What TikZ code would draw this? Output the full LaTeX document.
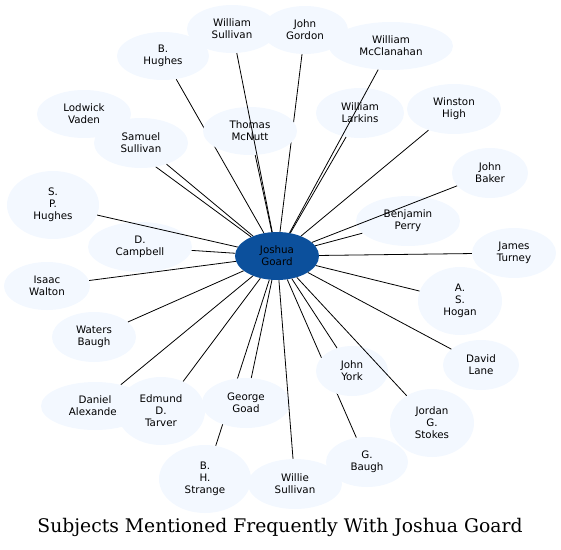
\documentclass[tikz,border=0pt]{standalone}
\usepackage{fontspec}
\newfontfamily\nodefont{DejaVu Sans}
\newfontfamily\titlefont{DejaVu Serif}
\usetikzlibrary{shapes.geometric,backgrounds}
\definecolor{nodefill}{HTML}{F3F8FF}
\definecolor{centerfill}{HTML}{0C509C}
\tikzset{
  person/.style={ellipse, fill=nodefill, inner sep=0pt, align=center,
    font=\nodefont\fontsize{10.3}{12}\selectfont},
  hub/.style={person, fill=centerfill},
  link/.style={draw=black, line width=0.8pt},
  sz/.style 2 args={minimum width=#1pt, minimum height=#2pt}
}
\begin{document}
\begin{tikzpicture}[x=1pt,y=-1pt]
\useasboundingbox (0,0) rectangle (561,549);
\node[person,sz={90}{48}] (ws) at (232,29) {William\\Sullivan};
\node[person,sz={86}{48}] (jg) at (305,30) {John\\Gordon};
\node[person,sz={124}{48}] (wm) at (391,46) {William\\McClanahan};
\node[person,sz={92}{48}] (bh) at (163,56) {B.\\Hughes};
\node[person,sz={94}{48}] (tm) at (250,131) {Thomas\\McNutt};
\node[person,sz={88}{50}] (wl) at (360,113) {William\\Larkins};
\node[person,sz={94}{50}] (wh) at (454,109) {Winston\\High};
\node[person,sz={94}{48}] (lv) at (84,114) {Lodwick\\Vaden};
\node[person,sz={94}{50}] (ss) at (141,143) {Samuel\\Sullivan};
\node[person,sz={76}{50}] (jb) at (490,173) {John\\Baker};
\node[person,sz={92}{68}] (sp) at (53,205) {S.\\P.\\Hughes};
\node[person,sz={104}{50}] (bp) at (408,221) {Benjamin\\Perry};
\node[person,sz={104}{50}] (dc) at (140,247) {D.\\Campbell};
\node[person,sz={84}{50}] (jt) at (514,253) {James\\Turney};
\node[person,sz={86}{48}] (iw) at (47,286) {Isaac\\Walton};
\node[person,sz={84}{68}] (ah) at (460,301) {A.\\S.\\Hogan};
\node[person,sz={84}{50}] (wb) at (94,337) {Waters\\Baugh};
\node[person,sz={72}{50}] (jy) at (352,371) {John\\York};
\node[person,sz={76}{50}] (dl) at (481,365) {David\\Lane};
\node[person,sz={108}{48}] (da) at (95,406) {Daniel\\Alexander};
\node[person,sz={88}{68}] (et) at (161,411) {Edmund\\D.\\Tarver};
\node[person,sz={88}{50}] (gg) at (246,403) {George\\Goad};
\node[person,sz={84}{68}] (js) at (432,423) {Jordan\\G.\\Stokes};
\node[person,sz={82}{50}] (gb) at (367,462) {G.\\Baugh};
\node[person,sz={92}{68}] (bs) at (205,479) {B.\\H.\\Strange};
\node[person,sz={94}{50}] (wsu) at (295,484) {Willie\\Sullivan};
\node[hub,sz={84}{48}] (jgd) at (277,256) {Joshua\\Goard};
\begin{pgfonlayer}{background}
\foreach \t in {lv,bh,jg,bs,gb}{\draw[link] (jgd) -- (\t);}
\end{pgfonlayer}
\foreach \t in {ws,wm,tm,wl,wh,ss,jb,sp,bp,dc,jt,iw,ah,wb,jy,dl,da,et,gg,js,wsu}{\draw[link] (jgd) -- (\t);}
\node[font=\titlefont] (title) at (280,527) {\resizebox{485pt}{!}{Subjects Mentioned Frequently With Joshua Goard}};
\end{tikzpicture}
\end{document}
